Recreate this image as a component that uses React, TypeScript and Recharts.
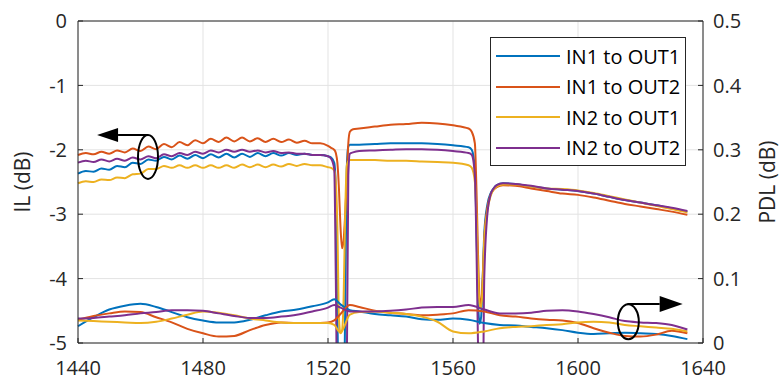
import React from "react";
import {
  ComposedChart,
  Line,
  XAxis,
  YAxis,
  CartesianGrid,
  ReferenceLine,
  ReferenceDot,
} from "recharts";

// wavelength grid (nm) for insertion loss traces
const ilWavelength = [
  1440, 1442.5, 1445, 1447.5, 1450, 1452.5, 1455, 1457.5, 1460, 1462.5, 1465, 1467.5, 1470, 1472.5, 1475, 1477.5,
  1480, 1482.5, 1485, 1487.5, 1490, 1492.5, 1495, 1497.5, 1500, 1502.5, 1505, 1507.5, 1510, 1512.5, 1515, 1517.5, 1520,
  1521, 1522, 1522.5, 1523, 1523.5, 1524, 1524.5, 1525, 1525.5, 1526, 1526.5, 1527, 1528,
  1530, 1535, 1540, 1545, 1550, 1555, 1560, 1565,
  1566, 1567, 1567.5, 1568, 1568.5, 1569, 1569.5, 1570, 1571, 1572, 1573, 1574,
  1576, 1580, 1585, 1590, 1595, 1600, 1605, 1610, 1615, 1620, 1625, 1630, 1635,
];

const ilIn1Out1 = [
  -2.37, -2.33, -2.34, -2.29, -2.31, -2.25, -2.27, -2.2, -2.22, -2.15, -2.17, -2.11, -2.15, -2.09, -2.14, -2.08,
  -2.13, -2.07, -2.12, -2.06, -2.12, -2.06, -2.11, -2.05, -2.1, -2.05, -2.09, -2.05, -2.08, -2.06, -2.08, -2.08, -2.1,
  -2.12, -2.2, -2.6, -4.5, -6, -6, -6, -6, -4.5, -2.3, -1.95, -1.92, -1.92,
  -1.92, -1.91, -1.9, -1.9, -1.9, -1.91, -1.93, -1.96,
  -2.0, -2.3, -3.2, -4.3, -4.7, -4.6, -4.0, -3.3, -2.85, -2.68, -2.6, -2.55,
  -2.52, -2.53, -2.57, -2.6, -2.62, -2.64, -2.68, -2.73, -2.78, -2.82, -2.86, -2.91, -2.96,
];

const ilIn1Out2 = [
  -2.08, -2.05, -2.07, -2.03, -2.06, -2.01, -2.04, -1.98, -2.02, -1.95, -1.99, -1.91, -1.96, -1.88, -1.93, -1.85,
  -1.9, -1.83, -1.88, -1.81, -1.87, -1.81, -1.87, -1.82, -1.88, -1.83, -1.88, -1.84, -1.89, -1.86, -1.9, -1.9, -1.94,
  -1.97, -2.0, -2.05, -2.2, -2.6, -3.2, -3.53, -3.4, -3.0, -2.5, -1.9, -1.72, -1.68,
  -1.67, -1.64, -1.61, -1.6, -1.58, -1.59, -1.62, -1.67,
  -1.72, -1.9, -2.6, -3.6, -4.3, -4.4, -4.0, -3.4, -2.9, -2.7, -2.62, -2.58,
  -2.55, -2.56, -2.6, -2.64, -2.68, -2.7, -2.74, -2.79, -2.84, -2.88, -2.92, -2.96, -3.01,
];

const ilIn2Out1 = [
  -2.52, -2.49, -2.5, -2.46, -2.47, -2.43, -2.44, -2.38, -2.37, -2.3, -2.3, -2.25, -2.28, -2.24, -2.28, -2.24,
  -2.28, -2.24, -2.28, -2.24, -2.28, -2.23, -2.27, -2.23, -2.27, -2.23, -2.26, -2.22, -2.25, -2.22, -2.24, -2.24, -2.27,
  -2.28, -2.32, -2.5, -3.2, -4.6, -4.85, -4.8, -4.3, -3.0, -2.25, -2.18, -2.16, -2.16,
  -2.16, -2.16, -2.17, -2.17, -2.18, -2.19, -2.2, -2.24,
  -2.28, -2.5, -3.0, -3.9, -4.4, -4.46, -4.1, -3.4, -2.95, -2.72, -2.62, -2.57,
  -2.54, -2.54, -2.57, -2.6, -2.61, -2.63, -2.67, -2.72, -2.77, -2.82, -2.87, -2.92, -2.97,
];

const ilIn2Out2 = [
  -2.2, -2.17, -2.19, -2.15, -2.18, -2.14, -2.17, -2.12, -2.15, -2.1, -2.13, -2.07, -2.1, -2.05, -2.08, -2.03,
  -2.06, -2.01, -2.04, -2.0, -2.03, -2.0, -2.03, -2.01, -2.04, -2.02, -2.05, -2.04, -2.06, -2.06, -2.08, -2.08, -2.1,
  -2.14, -2.3, -4.0, -6, -6, -6, -6, -6, -6, -5.5, -2.4, -2.06, -2.04,
  -2.02, -2.01, -2.0, -1.99, -1.99, -2.0, -2.02, -2.05,
  -2.08, -2.4, -3.5, -5, -6, -6, -6, -4, -3.0, -2.7, -2.6, -2.55,
  -2.52, -2.53, -2.56, -2.6, -2.62, -2.64, -2.68, -2.73, -2.78, -2.82, -2.86, -2.9, -2.95,
];

// wavelength grid (nm) for polarization dependent loss traces
const pdlWavelength = [
  1440, 1445, 1450, 1455, 1460, 1465, 1470, 1475, 1480, 1485, 1490, 1495, 1500, 1505, 1510, 1515, 1520,
  1522, 1524, 1527,
  1530, 1535, 1540, 1545, 1550, 1555, 1560, 1565, 1570, 1575, 1580, 1585, 1590, 1595, 1600, 1605, 1610,
  1615, 1620, 1625, 1630, 1635,
];

const pdlIn1Out1 = [
  0.026, 0.04, 0.052, 0.058, 0.061, 0.056, 0.048, 0.04, 0.035, 0.032, 0.032, 0.036, 0.043, 0.049, 0.052, 0.057, 0.063,
  0.068, 0.06, 0.051,
  0.049, 0.045, 0.043, 0.041, 0.037, 0.036, 0.038, 0.036, 0.031, 0.028, 0.027, 0.025, 0.023, 0.02, 0.016, 0.014, 0.015,
  0.016, 0.015, 0.014, 0.011, 0.006,
];

const pdlIn1Out2 = [
  0.036, 0.042, 0.046, 0.049, 0.048, 0.04, 0.032, 0.022, 0.015, 0.01, 0.011, 0.02, 0.028, 0.032, 0.031, 0.031, 0.032,
  0.035, 0.045, 0.059,
  0.056, 0.05, 0.047, 0.045, 0.043, 0.044, 0.046, 0.051, 0.049, 0.043, 0.041, 0.038, 0.036, 0.035, 0.031, 0.023, 0.016,
  0.011, 0.01, 0.013, 0.019, 0.015,
];

const pdlIn2Out1 = [
  0.035, 0.034, 0.033, 0.032, 0.031, 0.033, 0.038, 0.044, 0.049, 0.047, 0.043, 0.038, 0.035, 0.032, 0.031, 0.031, 0.031,
  0.028, 0.016, 0.044,
  0.048, 0.049, 0.047, 0.045, 0.041, 0.033, 0.018, 0.015, 0.018, 0.023, 0.025, 0.026, 0.028, 0.029, 0.032, 0.033, 0.032,
  0.028, 0.026, 0.024, 0.022, 0.018,
];

const pdlIn2Out2 = [
  0.038, 0.039, 0.041, 0.043, 0.046, 0.048, 0.051, 0.051, 0.05, 0.046, 0.042, 0.039, 0.039, 0.041, 0.044, 0.049, 0.055,
  0.059, 0.055, 0.049,
  0.049, 0.049, 0.05, 0.052, 0.055, 0.056, 0.056, 0.059, 0.052, 0.046, 0.046, 0.047, 0.05, 0.051, 0.049, 0.045, 0.04,
  0.034, 0.032, 0.031, 0.028, 0.021,
];

const xTicks = [1440, 1480, 1520, 1560, 1600, 1640];
const ilTicks = [-5, -4, -3, -2, -1, 0];
const pdlTicks = [0, 0.1, 0.2, 0.3, 0.4, 0.5];

const series = [
  { key: "s11", name: "IN1 to OUT1", color: "#0072BD" },
  { key: "s12", name: "IN1 to OUT2", color: "#D95319" },
  { key: "s21", name: "IN2 to OUT1", color: "#EDB120" },
  { key: "s22", name: "IN2 to OUT2", color: "#7E2F8E" },
];

const ilRows = ilWavelength.map((w, i) => ({
  w,
  s11: ilIn1Out1[i],
  s12: ilIn1Out2[i],
  s21: ilIn2Out1[i],
  s22: ilIn2Out2[i],
}));

const pdlRows = pdlWavelength.map((w, i) => ({
  w,
  s11: pdlIn1Out1[i],
  s12: pdlIn1Out2[i],
  s21: pdlIn2Out1[i],
  s22: pdlIn2Out2[i],
}));

const FONT = "'Open Sans', sans-serif";
const INK = "#262626";
const tickStyle = { fill: INK, fontSize: 20, fontFamily: FONT };

// arrow shape for the "which axis" annotations
const arrow = (len: number, half: number) => (p: any) => {
  const { x1, y1, x2, y2 } = p;
  const dir = x2 > x1 ? 1 : -1;
  const bx = x2 - dir * len;
  return (
    <g>
      <line x1={x1} y1={y1} x2={bx} y2={y2} stroke="#000" strokeWidth={2} />
      <polygon points={`${x2},${y2} ${bx},${y2 - half} ${bx},${y2 + half}`} fill="#000" />
    </g>
  );
};

const ellipse = (rx: number, ry: number) => (p: any) => (
  <ellipse cx={p.cx} cy={p.cy} rx={rx} ry={ry} fill="none" stroke="#000" strokeWidth={2} />
);

const axisTitle = (text: string, x: number) => (p: any) => {
  const vb = p.viewBox;
  const cy = vb.y + vb.height / 2;
  return (
    <text
      x={x}
      y={cy}
      transform={`rotate(-90 ${x} ${cy})`}
      textAnchor="middle"
      dominantBaseline="central"
      fill={INK}
      fontSize={21}
      fontFamily={FONT}
    >
      {text}
    </text>
  );
};

export default function App() {
  return (
    <div style={{ position: "relative", width: 783, height: 381, fontFamily: FONT, background: "#fff" }}>
      <style>{"body{margin:0}"}</style>
      <ComposedChart width={783} height={381} margin={{ top: 21, right: 0, bottom: 0, left: 0 }}>
        <CartesianGrid yAxisId="il" stroke="#e3e3e3" strokeWidth={1} />
        <XAxis
          dataKey="w"
          type="number"
          domain={[1440, 1640]}
          ticks={xTicks}
          height={38}
          tick={tickStyle}
          tickSize={-5}
          tickMargin={23}
          stroke={INK}
          allowDuplicatedCategory={false}
        />
        <YAxis
          yAxisId="il"
          type="number"
          domain={[-5, 0]}
          ticks={ilTicks}
          allowDataOverflow
          width={78}
          tick={tickStyle}
          tickSize={-5}
          tickMargin={16}
          stroke={INK}
          label={{ content: axisTitle("IL (dB)", 22) }}
        />
        <YAxis
          yAxisId="pdl"
          orientation="right"
          type="number"
          domain={[0, 0.5]}
          ticks={pdlTicks}
          allowDataOverflow
          width={80}
          tick={tickStyle}
          tickSize={-5}
          tickMargin={15}
          stroke={INK}
          tickFormatter={(v: number) => String(v)}
          label={{ content: axisTitle("PDL (dB)", 767) }}
        />
        <ReferenceLine yAxisId="il" y={0} stroke={INK} strokeWidth={1} ifOverflow="visible" />

        {series.map((s) => (
          <Line
            key={"il" + s.key}
            yAxisId="il"
            data={ilRows}
            dataKey={s.key}
            name={s.name}
            type="monotone"
            stroke={s.color}
            strokeWidth={2}
            dot={false}
            isAnimationActive={false}
          />
        ))}
        {series.map((s) => (
          <Line
            key={"pdl" + s.key}
            yAxisId="pdl"
            data={pdlRows}
            dataKey={s.key}
            name={s.name + " PDL"}
            type="monotone"
            stroke={s.color}
            strokeWidth={2}
            dot={false}
            isAnimationActive={false}
          />
        ))}

        <ReferenceDot yAxisId="il" x={1462.4} y={-2.11} shape={ellipse(10, 22)} />
        <ReferenceLine
          yAxisId="il"
          segment={[
            { x: 1462.4, y: -1.77 },
            { x: 1446.1, y: -1.77 },
          ]}
          shape={arrow(21, 7)}
        />
        <ReferenceDot yAxisId="pdl" x={1616.1} y={0.033} shape={ellipse(10.5, 17.5)} />
        <ReferenceLine
          yAxisId="pdl"
          segment={[
            { x: 1615.8, y: 0.0606 },
            { x: 1633.5, y: 0.0606 },
          ]}
          shape={arrow(23, 8)}
        />
      </ComposedChart>

      <div
        style={{
          position: "absolute",
          left: 490,
          top: 37,
          width: 194,
          height: 127,
          border: `1px solid ${INK}`,
          background: "#fff",
          boxSizing: "content-box",
        }}
      >
        {series.map((s, i) => (
          <div
            key={s.key}
            style={{
              position: "absolute",
              left: 5,
              top: 18 + i * 30.5 - 14,
              height: 28,
              display: "flex",
              alignItems: "center",
              whiteSpace: "nowrap",
            }}
          >
            <span style={{ display: "inline-block", width: 64, height: 2, background: s.color, marginRight: 6 }} />
            <span style={{ fontSize: 20, color: "#000", fontFamily: FONT }}>{s.name}</span>
          </div>
        ))}
      </div>
    </div>
  );
}
